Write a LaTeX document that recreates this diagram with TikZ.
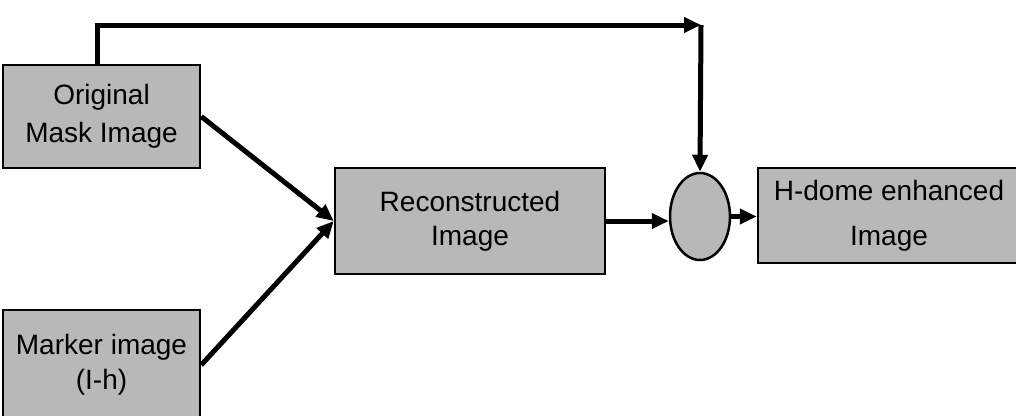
\documentclass[tikz,border=0pt]{standalone}
\usepackage{fontspec}
\setmainfont{Liberation Sans}
\usetikzlibrary{arrows.meta,shapes.geometric}
\definecolor{boxgray}{gray}{0.72}
\tikzset{
  blockbox/.style={draw=black, line width=2.5pt, fill=boxgray, rectangle,
    inner sep=0pt, align=center},
  joinnode/.style={draw=black, line width=2.5pt, fill=boxgray, ellipse,
    inner sep=0pt},
  flow/.style={line width=5pt, -{Triangle[length=17pt,width=15pt]}},
  txt/.style={font=\fontsize{28}{#1}\selectfont}
}
\begin{document}
\begin{tikzpicture}[x=1pt,y=-1pt]
\useasboundingbox (0,0) rectangle (1016,415);

\node[blockbox, txt=38, minimum width=197pt, minimum height=103pt] (orig) at (101.5,116.5)
  {Original\\Mask Image};
\node[blockbox, txt=35, minimum width=197pt, minimum height=110pt] (marker) at (101.5,365)
  {Marker image\\(I-h)};
\node[blockbox, txt=34, minimum width=270pt, minimum height=106pt] (recon) at (470,221)
  {Reconstructed\\Image};
\node[joinnode, minimum width=60pt, minimum height=87pt] (join) at (700,216.5) {};
\node[blockbox, txt=45, minimum width=262pt, minimum height=95pt] (hdome) at (889,215.5)
  {H-dome enhanced\\Image};

\coordinate (riser) at (97,25);
\coordinate (corner) at (701,25);

\draw[flow] (orig.north -| riser) -- (riser) -- (corner);
\draw[flow] (corner) -- (join.north);
\draw[flow] (orig.east) -- (recon.west);
\draw[flow] (marker.east) -- (recon.west);
\draw[flow] (recon.east) -- (recon.east -| join.west);
\draw[flow] (join.east) -- (join.east -| hdome.west);
\end{tikzpicture}
\end{document}
